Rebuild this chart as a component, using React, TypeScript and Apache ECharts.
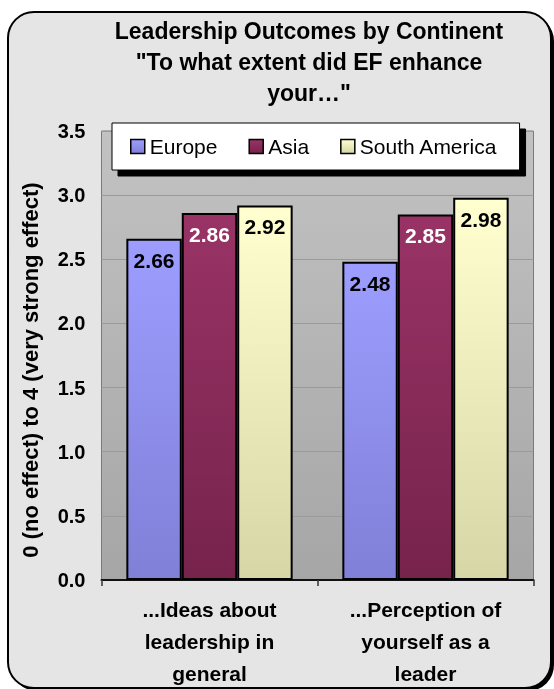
import React, { useEffect, useRef } from "react";
import * as echarts from "echarts";

const categories = ["...Ideas about\nleadership in\ngeneral", "...Perception of\nyourself as a\nleader"];
const europe = [2.66, 2.48];
const asia = [2.86, 2.85];
const southAmerica = [2.92, 2.98];
const seriesNames = ["Europe", "Asia", "South America"];
const titleLines = ["Leadership Outcomes by Continent", "\"To what extent did EF enhance", "your…\""];
const yAxisName = "0 (no effect) to 4 (very strong effect)";

const FONT = '"Liberation Sans", Arial, Helvetica, sans-serif';

function grad(top: string, bottom: string) {
  return new echarts.graphic.LinearGradient(0, 0, 0, 1, [
    { offset: 0, color: top },
    { offset: 1, color: bottom },
  ]);
}

export default function App() {
  const ref = useRef<HTMLDivElement>(null);
  useEffect(() => {
    if (!ref.current) return;
    const chart = echarts.init(ref.current, null, { renderer: "svg" });
    const labelBase = {
      show: true,
      position: "insideTop",
      distance: 11,
      fontFamily: FONT,
      fontWeight: "bold",
      fontSize: 21,
      formatter: (p: any) => p.value.toFixed(2),
    };
    const barBorder = { borderColor: "#000", borderWidth: 2 };
    chart.setOption({
      animation: false,
      textStyle: { fontFamily: FONT },
      graphic: [
        {
          type: "rect",
          z: -20,
          shape: { x: 11, y: 15, width: 543, height: 676, r: 26 },
          style: { fill: "#000" },
        },
        {
          type: "rect",
          z: -19,
          shape: { x: 8, y: 12, width: 543, height: 676, r: 26 },
          style: { fill: "#E5E5E5", stroke: "#000", lineWidth: 2 },
        },
        {
          type: "text",
          z: 10,
          x: 309,
          y: 15,
          style: {
            text: titleLines.join("\n"),
            font: `bold 23px ${FONT}`,
            fill: "#000",
            lineHeight: 31,
            textAlign: "center",
            align: "center",
            textVerticalAlign: "top",
            verticalAlign: "top",
          },
        },
        {
          type: "text",
          z: 10,
          x: 30,
          y: 370,
          rotation: Math.PI / 2,
          style: {
            text: yAxisName,
            font: `bold 22px ${FONT}`,
            fill: "#000",
            textAlign: "center",
            align: "center",
            textVerticalAlign: "middle",
            verticalAlign: "middle",
          },
        },
      ],
      legend: {
        left: 112,
        top: 123,
        orient: "horizontal",
        padding: [13, 22, 13, 18],
        itemGap: 31,
        itemWidth: 14,
        itemHeight: 14,
        icon: "rect",
        backgroundColor: "#fff",
        borderColor: "#000",
        borderWidth: 1,
        shadowColor: "#000",
        shadowBlur: 0,
        shadowOffsetX: 6,
        shadowOffsetY: 6,
        textStyle: { fontFamily: FONT, fontSize: 21, color: "#000" },
        itemStyle: { borderColor: "#000", borderWidth: 1.5 },
        data: seriesNames,
      },
      grid: {
        left: 101.5,
        right: 20.5,
        top: 131,
        bottom: 106,
        show: true,
        backgroundColor: grad("#C2C2C2", "#A6A6A6"),
        borderColor: "#7A7A7A",
        borderWidth: 1,
      },
      xAxis: {
        type: "category",
        data: categories,
        axisLine: { show: true, lineStyle: { color: "#111", width: 2 } },
        axisTick: { show: true, length: 6, lineStyle: { color: "#333", width: 1.5 } },
        axisLabel: {
          fontFamily: FONT,
          fontWeight: "bold",
          fontSize: 21,
          lineHeight: 32,
          color: "#000",
          margin: 13,
        },
      },
      yAxis: {
        type: "value",
        min: 0,
        max: 3.5,
        interval: 0.5,
        axisLine: { show: false },
        axisTick: { show: false },
        splitLine: { lineStyle: { color: "#9A9A9A", width: 1 } },
        axisLabel: {
          fontFamily: FONT,
          fontWeight: "bold",
          fontSize: 20,
          color: "#000",
          margin: 16,
          formatter: (v: number) => v.toFixed(1),
        },
      },
      series: [
        {
          name: seriesNames[0],
          type: "bar",
          data: europe,
          barGap: "0%",
          barCategoryGap: "23%",
          itemStyle: { color: grad("#9D9DFF", "#8080D8"), ...barBorder },
          label: { ...labelBase, color: "#000" },
        },
        {
          name: seriesNames[1],
          type: "bar",
          data: asia,
          itemStyle: { color: grad("#993366", "#76234C"), ...barBorder },
          label: { ...labelBase, color: "#fff" },
        },
        {
          name: seriesNames[2],
          type: "bar",
          data: southAmerica,
          itemStyle: { color: grad("#FFFFCF", "#D6D6A6"), ...barBorder },
          label: { ...labelBase, color: "#000" },
        },
      ],
    });
    return () => chart.dispose();
  }, []);
  return (
    <div
      ref={ref}
      style={{ position: "fixed", left: 0, top: 0, width: 554, height: 689 }}
    />
  );
}
